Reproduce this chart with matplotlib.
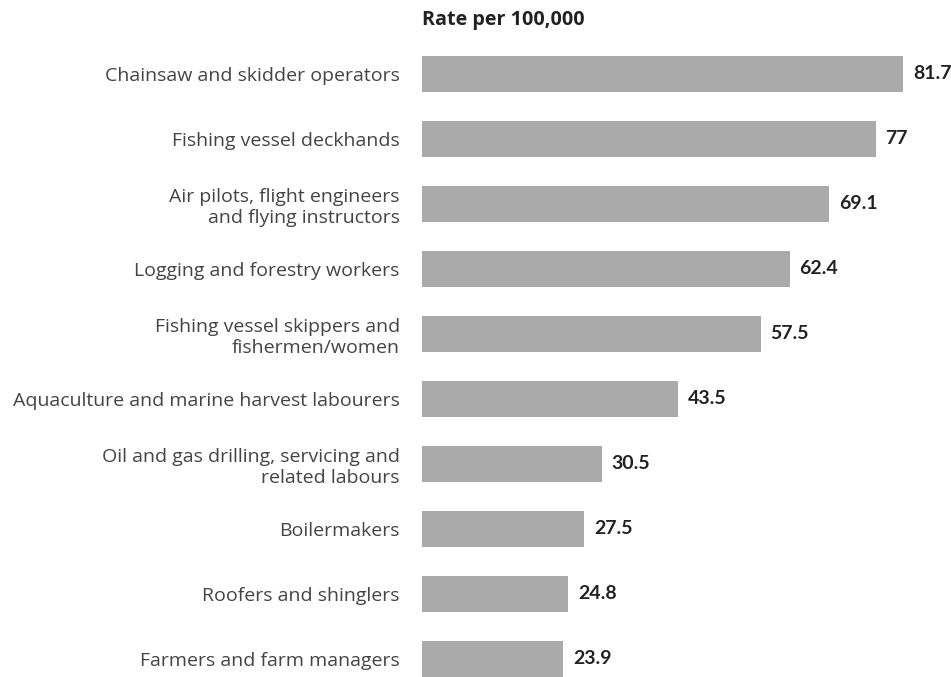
import matplotlib
matplotlib.use("Agg")
import matplotlib.pyplot as plt

categories = [
    "Chainsaw and skidder operators",
    "Fishing vessel deckhands",
    "Air pilots, flight engineers\nand flying instructors",
    "Logging and forestry workers",
    "Fishing vessel skippers and\nfishermen/women",
    "Aquaculture and marine harvest labourers",
    "Oil and gas drilling, servicing and\nrelated labours",
    "Boilermakers",
    "Roofers and shinglers",
    "Farmers and farm managers",
]
values = [81.7, 77, 69.1, 62.4, 57.5, 43.5, 30.5, 27.5, 24.8, 23.9]
value_labels = ["81.7", "77", "69.1", "62.4", "57.5", "43.5", "30.5", "27.5", "24.8", "23.9"]
title = "Rate per 100,000"

plt.rcParams['font.family'] = ['Lato', 'DejaVu Sans']

W, H = 951, 677
fig = plt.figure(figsize=(W / 100, H / 100), dpi=100)
x0 = 422 / W
ax = fig.add_axes([x0, 0, 1 - x0, 1])

ypos = list(range(len(categories)))
ax.barh(ypos, values, height=0.54, color="#aaaaaa")

ax.set_ylim(9.277, -1.138)
px_per_unit = 5.89
ax.set_xlim(0, (W - 422) / px_per_unit)

ax.set_yticks(ypos)
ax.set_yticklabels(categories, fontsize=14, color="#444444", ha="right",
                   linespacing=1.25, family=['Open Sans', 'DejaVu Sans'])
ax.tick_params(axis="y", length=0, pad=16)
ax.set_xticks([])
for s in ax.spines.values():
    s.set_visible(False)

for y, v, lab in zip(ypos, values, value_labels):
    ax.annotate(lab, (v, y), xytext=(7.2, 0), textcoords="offset points",
                ha="left", va="center", fontsize=14, fontweight="bold", color="#222222")

fig.text(422 / W, 1 - 25 / H, title, ha="left", va="baseline",
         fontsize=14.2, fontweight="bold", color="#222222",
         family=['Open Sans', 'DejaVu Sans'])

fig.savefig("out.png", dpi=100)
